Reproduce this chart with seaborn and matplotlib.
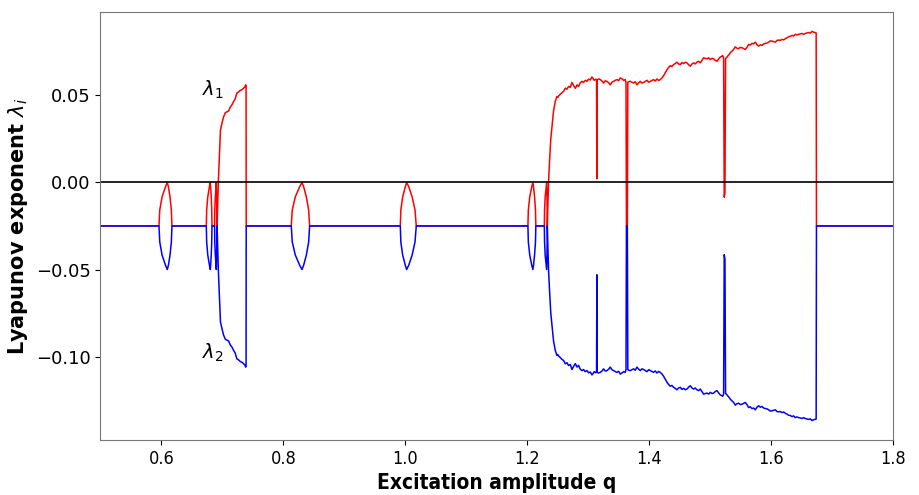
import pandas as pd
import numpy as np
import matplotlib
matplotlib.use('Agg')
import matplotlib.pyplot as plt
import seaborn as sns

# baseline of both exponents (damping) outside the lenses / chaotic windows
base = -0.025

# lens shapes (period doubling points)
lens_up = [-0.025, -0.0158, -0.0083, -0.0025, 0.0, -0.0025, -0.0083, -0.0158, -0.025]
lens_dn = [-0.025, -0.0342, -0.0417, -0.0475, -0.05, -0.0475, -0.0417, -0.0342, -0.025]
short_up = [-0.025, -0.0158, -0.0083, -0.0025, 0.0, -0.0083, -0.025]
short_dn = [-0.025, -0.0342, -0.0417, -0.0475, -0.05, -0.0417, -0.025]

lens_a_q = [0.5962, 0.5975, 0.6013, 0.6069, 0.6098, 0.6117, 0.6143, 0.6165, 0.6175]
lens_b_q = [0.6738, 0.6744, 0.6762, 0.6789, 0.6803, 0.6809, 0.6819, 0.6827, 0.6831]
lens_f_q = [0.6874, 0.6877, 0.6886, 0.6897, 0.6902, 0.6907, 0.6915]
lens_c_q = [0.8131, 0.8147, 0.8197, 0.8268, 0.8306, 0.8334, 0.8378, 0.8416, 0.8432]
lens_d_q = [0.9918, 0.9927, 0.9957, 1.0000, 1.0022, 1.0057, 1.0112, 1.0159, 1.0180]
lens_e_q = [1.2010, 1.2017, 1.2040, 1.2073, 1.2091, 1.2102, 1.2119, 1.2134, 1.2140]
lens_g_q = [1.2279, 1.2283, 1.2293, 1.2310, 1.2317, 1.2323, 1.2328]

# first chaotic window
q_ch1 = [0.6935, 0.6950, 0.6970, 0.6995, 0.7020, 0.7050, 0.7075, 0.7104, 0.7130, 0.7158,
         0.7185, 0.7210, 0.7240, 0.7265, 0.7295, 0.7320, 0.7350, 0.7370, 0.7383, 0.7390, 0.7392]
l1_ch1 = [0.0, 0.0127, 0.0300, 0.0340, 0.0375, 0.0400, 0.0405, 0.0410, 0.0432, 0.0445,
          0.0464, 0.0478, 0.0513, 0.0518, 0.0528, 0.0532, 0.0541, 0.0548, 0.0560, 0.0555, -0.025]
l2_ch1 = [-0.0500, -0.0627, -0.0800, -0.0840, -0.0875, -0.0900, -0.0905, -0.0910, -0.0932, -0.0945,
          -0.0964, -0.0978, -0.1013, -0.1018, -0.1028, -0.1032, -0.1041, -0.1048, -0.1060, -0.1055, -0.025]

# second chaotic window
q_ch2 = [1.2348, 1.2366, 1.2385, 1.2404, 1.2430, 1.2459, 1.2486, 1.2500, 1.2514, 1.2540,
         1.2570, 1.2595, 1.2623, 1.2650, 1.2677, 1.2705, 1.2732, 1.2760, 1.2787, 1.2815,
         1.2840, 1.2868, 1.2896, 1.2922, 1.2950, 1.2978, 1.3005, 1.3032, 1.3060, 1.3080,
         1.3098, 1.3120, 1.3135, 1.3141, 1.3147, 1.3170, 1.3197, 1.3225, 1.3250, 1.3278,
         1.3306, 1.3333, 1.3360, 1.3388, 1.3415, 1.3442, 1.3470, 1.3498, 1.3525, 1.3552,
         1.3580, 1.3605, 1.3618, 1.3625, 1.3640, 1.3648, 1.3676, 1.3689, 1.3715, 1.3743,
         1.3770, 1.3798, 1.3825, 1.3852, 1.3880, 1.3907, 1.3935, 1.3962, 1.3990, 1.4016,
         1.4043, 1.4070, 1.4098, 1.4125, 1.4152, 1.4180, 1.4208, 1.4235, 1.4262, 1.4290,
         1.4317, 1.4344, 1.4370, 1.4398, 1.4425, 1.4453, 1.4480, 1.4508, 1.4535, 1.4562,
         1.4590, 1.4617, 1.4645, 1.4672, 1.4700, 1.4726, 1.4753, 1.4780, 1.4808, 1.4836,
         1.4863, 1.4890, 1.4918, 1.4945, 1.4972, 1.5000, 1.5028, 1.5055, 1.5082, 1.5109,
         1.5136, 1.5164, 1.5190, 1.5202, 1.5218, 1.5228, 1.5240, 1.5250, 1.5284, 1.5310,
         1.5330, 1.5354, 1.5380, 1.5410, 1.5437, 1.5464, 1.5490, 1.5518, 1.5546, 1.5574,
         1.5600, 1.5628, 1.5655, 1.5683, 1.5710, 1.5738, 1.5765, 1.5792, 1.5820, 1.5847,
         1.5875, 1.5902, 1.5930, 1.5956, 1.5983, 1.6010, 1.6038, 1.6066, 1.6093, 1.6120,
         1.6148, 1.6175, 1.6203, 1.6230, 1.6257, 1.6284, 1.6312, 1.6340, 1.6366, 1.6393,
         1.6420, 1.6448, 1.6475, 1.6503, 1.6530, 1.6557, 1.6584, 1.6610, 1.6640, 1.6667,
         1.6693, 1.6720, 1.6735, 1.6740, 1.8000]
l1_ch2 = [0.0, 0.013, 0.025, 0.032, 0.041, 0.0465, 0.0493, 0.0488, 0.0497, 0.0505,
          0.0516, 0.0522, 0.0541, 0.0535, 0.0551, 0.0545, 0.0574, 0.0555, 0.0540, 0.0560,
          0.0550, 0.0572, 0.0580, 0.0574, 0.0586, 0.0580, 0.0593, 0.0588, 0.0605, 0.0596,
          0.0586, 0.0592, 0.0590, 0.0021, 0.0590, 0.0594, 0.0590, 0.0582, 0.0570, 0.0583,
          0.0580, 0.0572, 0.0560, 0.0575, 0.0580, 0.0586, 0.0590, 0.0584, 0.0600, 0.0594,
          0.0586, 0.0590, 0.0575, -0.025, -0.025, 0.0575, 0.0580, 0.0580, 0.0575, 0.0570,
          0.0578, 0.0560, 0.0572, 0.0580, 0.0570, 0.0574, 0.0580, 0.0586, 0.0575, 0.0580,
          0.0585, 0.0590, 0.0582, 0.0594, 0.0585, 0.0590, 0.0600, 0.0613, 0.0630, 0.0647,
          0.0660, 0.0670, 0.0665, 0.0676, 0.0682, 0.0690, 0.0680, 0.0676, 0.0688, 0.0682,
          0.0690, 0.0686, 0.0675, 0.0667, 0.0680, 0.0686, 0.0680, 0.0690, 0.0695, 0.0686,
          0.0700, 0.0715, 0.0712, 0.0709, 0.0715, 0.0705, 0.0712, 0.0709, 0.0700, 0.0695,
          0.0708, 0.0720, 0.0724, 0.0728, 0.0715, -0.0085, -0.0060, 0.0710, 0.0724, 0.0735,
          0.0745, 0.0753, 0.0762, 0.0778, 0.0770, 0.0767, 0.0775, 0.0773, 0.0768, 0.0763,
          0.0775, 0.0792, 0.0788, 0.0798, 0.0795, 0.0805, 0.0790, 0.0782, 0.0790, 0.0786,
          0.0795, 0.0798, 0.0800, 0.0805, 0.0812, 0.0811, 0.0808, 0.0805, 0.0815, 0.0817,
          0.0815, 0.0821, 0.0818, 0.0825, 0.0830, 0.0836, 0.0838, 0.0844, 0.0840, 0.0850,
          0.0846, 0.0850, 0.0852, 0.0855, 0.0850, 0.0855, 0.0858, 0.0860, 0.0857, 0.0867,
          0.0862, 0.0860, 0.0858, -0.025, -0.025]
l2_ch2 = [-0.050, -0.063, -0.075, -0.082, -0.091, -0.0965, -0.0993, -0.0988, -0.0997, -0.1005,
          -0.1016, -0.1022, -0.1041, -0.1035, -0.1051, -0.1045, -0.1074, -0.1055, -0.1040, -0.1060,
          -0.1050, -0.1072, -0.1080, -0.1074, -0.1086, -0.1080, -0.1093, -0.1088, -0.1105, -0.1096,
          -0.1086, -0.1092, -0.1090, -0.0530, -0.1090, -0.1094, -0.1090, -0.1082, -0.1070, -0.1083,
          -0.1080, -0.1072, -0.1060, -0.1075, -0.1080, -0.1086, -0.1090, -0.1084, -0.1100, -0.1094,
          -0.1086, -0.1090, -0.1075, -0.025, -0.025, -0.1075, -0.1080, -0.1080, -0.1075, -0.1070,
          -0.1078, -0.1060, -0.1072, -0.1080, -0.1070, -0.1074, -0.1080, -0.1086, -0.1075, -0.1080,
          -0.1085, -0.1090, -0.1082, -0.1094, -0.1085, -0.1090, -0.1100, -0.1113, -0.1130, -0.1147,
          -0.1160, -0.1170, -0.1165, -0.1176, -0.1182, -0.1190, -0.1180, -0.1176, -0.1188, -0.1182,
          -0.1190, -0.1186, -0.1175, -0.1167, -0.1180, -0.1186, -0.1180, -0.1190, -0.1195, -0.1186,
          -0.1200, -0.1215, -0.1212, -0.1209, -0.1215, -0.1205, -0.1212, -0.1209, -0.1200, -0.1195,
          -0.1208, -0.1220, -0.1224, -0.1228, -0.1215, -0.0415, -0.0440, -0.1210, -0.1224, -0.1235,
          -0.1245, -0.1253, -0.1262, -0.1278, -0.1270, -0.1267, -0.1275, -0.1273, -0.1268, -0.1263,
          -0.1275, -0.1292, -0.1288, -0.1298, -0.1295, -0.1305, -0.1290, -0.1282, -0.1290, -0.1286,
          -0.1295, -0.1298, -0.1300, -0.1305, -0.1312, -0.1311, -0.1308, -0.1305, -0.1315, -0.1317,
          -0.1315, -0.1321, -0.1318, -0.1325, -0.1330, -0.1336, -0.1338, -0.1344, -0.1340, -0.1350,
          -0.1346, -0.1350, -0.1352, -0.1355, -0.1350, -0.1355, -0.1358, -0.1360, -0.1357, -0.1367,
          -0.1362, -0.1360, -0.1358, -0.025, -0.025]

x_ticks = [0.6, 0.8, 1.0, 1.2, 1.4, 1.6, 1.8]
x_ticklabels = ['0.6', '0.8', '1.0', '1.2', '1.4', '1.6', '1.8']
y_ticks = [-0.10, -0.05, 0.00, 0.05]

q = ([0.5] + lens_a_q + lens_b_q + lens_f_q + q_ch1 + lens_c_q + lens_d_q
     + lens_e_q + lens_g_q + q_ch2)
lam1 = ([base] + lens_up + lens_up + short_up + l1_ch1 + lens_up + lens_up
        + lens_up + short_up + l1_ch2)
lam2 = ([base] + lens_dn + lens_dn + short_dn + l2_ch1 + lens_dn + lens_dn
        + lens_dn + short_dn + l2_ch2)

df = pd.DataFrame({'q': q, 'lam1': lam1, 'lam2': lam2})

sns.set_style('ticks')
plt.rcParams['font.family'] = ['DejaVu Sans']
plt.rcParams['text.color'] = 'black'
plt.rcParams['axes.labelcolor'] = 'black'
plt.rcParams['xtick.color'] = 'black'
plt.rcParams['ytick.color'] = 'black'

fig, ax = plt.subplots(figsize=(9.2, 4.95), dpi=100)
fig.subplots_adjust(left=0.109, right=0.971, top=0.976, bottom=0.111)

sns.lineplot(data=df, x='q', y='lam1', color='red', lw=1.1, estimator=None, sort=False, ax=ax)
sns.lineplot(data=df, x='q', y='lam2', color='blue', lw=1.1, estimator=None, sort=False, ax=ax)
ax.axhline(0, color='black', lw=1.2)

ax.set_xlim(0.5, 1.8)
ax.set_xticks(x_ticks, x_ticklabels, fontsize=13, fontstretch='condensed')
ax.set_yticks(y_ticks)
ax.tick_params(axis='y', labelsize=13)
ax.set_xlabel('Excitation amplitude q', fontsize=15, fontweight='bold', fontstretch='condensed')
ax.set_ylabel(r'Lyapunov exponent $\lambda_i$', fontsize=15, fontweight='bold')
for s in ax.spines.values():
    s.set_color('#777777')

ax.text(0.685, 0.053, r'$\lambda_1$', fontsize=14, ha='center', va='center')
ax.text(0.685, -0.098, r'$\lambda_2$', fontsize=14, ha='center', va='center')

plt.savefig('out.png', dpi=100)
